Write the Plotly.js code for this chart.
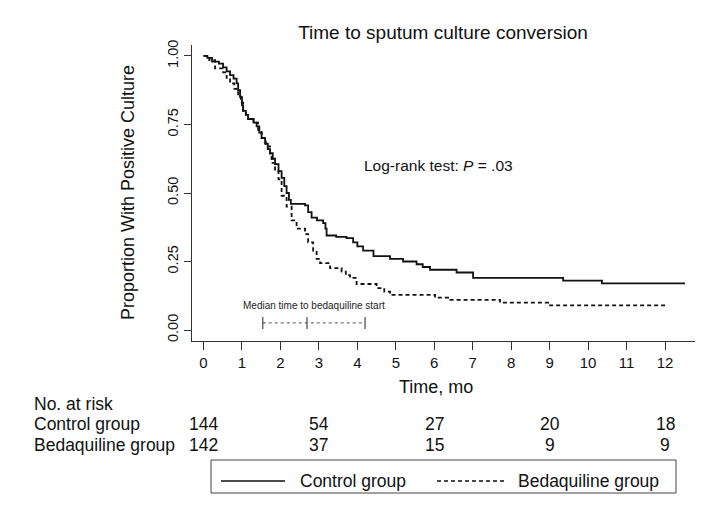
<!DOCTYPE html>
<html>
<head>
<meta charset="utf-8">
<script src="https://cdn.plot.ly/plotly-3.0.1.min.js"></script>
<style>html,body{margin:0;padding:0;background:#fff;}#chart{width:714px;height:520px;}</style>
</head>
<body>
<div id="chart"></div>
<script>
// Kaplan-Meier step data (time in months, proportion with positive culture)
const controlTime = [0,0.1,0.22,0.4,0.51,0.6,0.69,0.78,0.86,0.9,0.95,1.0,1.03,1.1,1.16,1.3,1.38,1.45,1.51,1.6,1.67,1.73,1.8,1.86,1.95,2.03,2.1,2.16,2.22,2.27,2.64,2.72,2.81,2.95,3.11,3.17,3.2,3.45,3.72,3.89,4.0,4.15,4.42,4.85,5.19,5.54,5.7,5.89,6.58,7.01,9.35,10.36,12.52];
const controlSurv = [1.0,0.993,0.979,0.972,0.958,0.944,0.93,0.917,0.90,0.875,0.85,0.82,0.80,0.785,0.77,0.757,0.743,0.72,0.70,0.68,0.66,0.645,0.625,0.605,0.58,0.555,0.525,0.50,0.475,0.46,0.455,0.43,0.41,0.40,0.39,0.37,0.345,0.34,0.335,0.32,0.305,0.29,0.27,0.26,0.25,0.24,0.23,0.22,0.21,0.19,0.18,0.17,0.17];
const bedaqTime = [0,0.15,0.3,0.51,0.6,0.69,0.8,0.9,0.97,1.03,1.1,1.16,1.3,1.42,1.51,1.62,1.73,1.77,1.86,1.95,2.03,2.16,2.29,2.42,2.64,2.72,2.85,2.94,3.03,3.29,3.59,3.7,3.81,3.98,4.5,4.7,4.85,6.02,6.36,7.71,8.96,12.0];
const bedaqSurv = [1.0,0.985,0.955,0.94,0.92,0.90,0.88,0.86,0.83,0.80,0.785,0.77,0.757,0.73,0.70,0.67,0.64,0.61,0.58,0.55,0.49,0.45,0.40,0.37,0.35,0.32,0.29,0.26,0.244,0.226,0.213,0.20,0.19,0.168,0.153,0.14,0.128,0.118,0.11,0.10,0.09,0.09];

// Number at risk table
const riskTimes = [0, 3, 6, 9, 12];
const controlRisk = [144, 54, 27, 20, 18];
const bedaqRisk = [142, 37, 15, 9, 9];
const groupNames = ["Control group", "Bedaquiline group"];

// Median time to bedaquiline start (lower bound, median, upper bound)
const medianStart = [1.54, 2.69, 4.2];

const xTicks = [0,1,2,3,4,5,6,7,8,9,10,11,12];
const yTicks = [0, 0.25, 0.5, 0.75, 1.0];
const yTickText = ["0.00", "0.25", "0.50", "0.75", "1.00"];

const FONT = "Liberation Sans, Arial, Helvetica, sans-serif";

// layout geometry helpers (pixel -> paper)
const L = 192, R = 695, T = 45, B = 341;
const px = v => (v - L) / (R - L);
const py = v => (B - v) / (B - T);

const traces = [
  {x: controlTime, y: controlSurv, type: 'scatter', mode: 'lines', name: groupNames[0],
   line: {shape: 'hv', color: '#111', width: 1.8}, showlegend: false, hoverinfo: 'x+y'},
  {x: bedaqTime, y: bedaqSurv, type: 'scatter', mode: 'lines', name: groupNames[1],
   line: {shape: 'hv', color: '#111', width: 1.8, dash: '4px,3px'}, showlegend: false, hoverinfo: 'x+y'}
];

const annotations = [];
const shapes = [];

// y-axis title
annotations.push({xref: 'paper', yref: 'paper', x: px(128), y: 0.5, text: 'Proportion With Positive Culture',
  textangle: -90, showarrow: false, xanchor: 'center', yanchor: 'middle', font: {family: FONT, size: 18, color: '#111'}});
// x-axis title
annotations.push({xref: 'paper', yref: 'paper', x: px(436), y: py(387), text: 'Time, mo',
  showarrow: false, xanchor: 'center', yanchor: 'middle', font: {family: FONT, size: 18, color: '#111'}});
// log-rank text
annotations.push({xref: 'x', yref: 'y', x: 4.12, y: 0.60, text: 'Log-rank test: <i>P</i> = .03',
  showarrow: false, xanchor: 'left', yanchor: 'middle', font: {family: FONT, size: 15.5, color: '#111'}});
// median label
annotations.push({xref: 'x', yref: 'y', x: (medianStart[0] + medianStart[2]) / 2, y: 0.091, text: 'Median time to bedaquiline start',
  showarrow: false, xanchor: 'center', yanchor: 'middle', font: {family: FONT, size: 10, color: '#222'}});
// median interval shapes
shapes.push({type: 'line', xref: 'x', yref: 'y', x0: medianStart[0], x1: medianStart[2], y0: 0.026, y1: 0.026,
  line: {color: '#777', width: 1.2, dash: 'dot'}});
medianStart.forEach(m => shapes.push({type: 'line', xref: 'x', yref: 'y', x0: m, x1: m, y0: 0.004, y1: 0.048,
  line: {color: '#555', width: 1.3}}));

// at-risk table
annotations.push({xref: 'paper', yref: 'paper', x: px(32), y: py(404), text: 'No. at risk',
  showarrow: false, xanchor: 'left', yanchor: 'middle', font: {family: FONT, size: 17.5, color: '#111'}});
const rowY = [py(424), py(445)];
[controlRisk, bedaqRisk].forEach((arr, r) => {
  annotations.push({xref: 'paper', yref: 'paper', x: px(32), y: rowY[r], text: groupNames[r],
    showarrow: false, xanchor: 'left', yanchor: 'middle', font: {family: FONT, size: 17.5, color: '#111'}});
  arr.forEach((v, i) => annotations.push({xref: 'x', yref: 'paper', x: riskTimes[i], y: rowY[r], text: String(v),
    showarrow: false, xanchor: 'center', yanchor: 'middle', font: {family: FONT, size: 17.5, color: '#111'}}));
});

// custom legend box
shapes.push({type: 'rect', xref: 'paper', yref: 'paper', x0: px(211), x1: px(676), y0: py(493), y1: py(460),
  line: {color: '#444', width: 1}, fillcolor: 'rgba(0,0,0,0)'});
const legY = py(481);
shapes.push({type: 'line', xref: 'paper', yref: 'paper', x0: px(221), x1: px(285), y0: legY, y1: legY,
  line: {color: '#111', width: 1.5}});
shapes.push({type: 'line', xref: 'paper', yref: 'paper', x0: px(437), x1: px(504), y0: legY, y1: legY,
  line: {color: '#111', width: 1.5, dash: '4px,3px'}});
annotations.push({xref: 'paper', yref: 'paper', x: px(298), y: legY, text: groupNames[0],
  showarrow: false, xanchor: 'left', yanchor: 'middle', font: {family: FONT, size: 17.5, color: '#111'}});
annotations.push({xref: 'paper', yref: 'paper', x: px(516), y: legY, text: groupNames[1],
  showarrow: false, xanchor: 'left', yanchor: 'middle', font: {family: FONT, size: 17.5, color: '#111'}});

const layout = {
  width: 714, height: 520,
  margin: {l: L, r: 714 - R, t: T, b: 520 - B, pad: 0},
  paper_bgcolor: '#fff', plot_bgcolor: '#fff',
  showlegend: false,
  title: {text: 'Time to sputum culture conversion', x: 443 / 714, xanchor: 'center', y: 1 - 32 / 520, yanchor: 'middle',
    font: {family: FONT, size: 19, color: '#111'}},
  xaxis: {range: [-0.3, 12.78], tickvals: xTicks, ticktext: xTicks.map(String), ticks: 'outside', ticklen: 8, tickwidth: 1,
    tickcolor: '#333', showline: true, linecolor: '#333', linewidth: 1, showgrid: false, zeroline: false,
    tickfont: {family: FONT, size: 15, color: '#111'}},
  yaxis: {range: [-0.04, 1.04], tickvals: yTicks, ticktext: yTickText, ticks: 'outside', ticklen: 7, tickwidth: 1,
    tickcolor: '#333', showline: true, linecolor: '#333', linewidth: 1, showgrid: false, zeroline: false, tickangle: -90,
    tickfont: {family: FONT, size: 14.5, color: '#111'}},
  annotations: annotations,
  shapes: shapes
};

Plotly.newPlot('chart', traces, layout, {displayModeBar: false, staticPlot: true});
</script>
</body>
</html>
